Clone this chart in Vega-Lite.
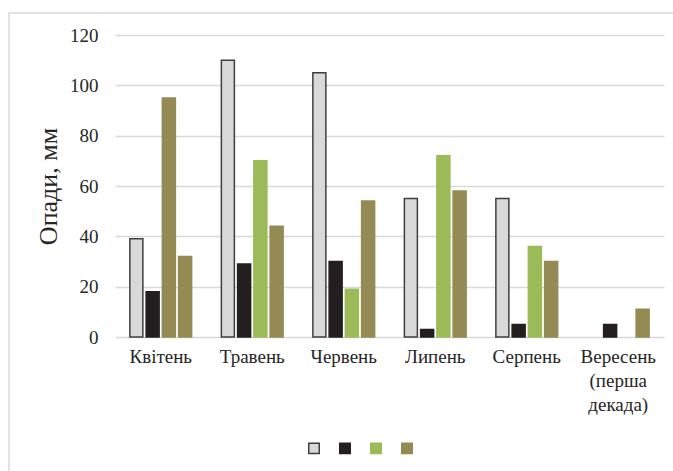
{
  "$schema": "https://vega.github.io/schema/vega-lite/v6.json",
  "width": 666,
  "height": 460,
  "autosize": {"type": "none"},
  "padding": {"left": 9, "top": 13, "right": -2, "bottom": -2},
  "background": "white",
  "data": {
    "values": [
      {"month": "Квітень", "series": "A", "mm": 39},
      {"month": "Квітень", "series": "B", "mm": 18},
      {"month": "Квітень", "series": "C", "mm": 95},
      {"month": "Квітень", "series": "D", "mm": 32},
      {"month": "Травень", "series": "A", "mm": 110},
      {"month": "Травень", "series": "B", "mm": 29},
      {"month": "Травень", "series": "C", "mm": 70},
      {"month": "Травень", "series": "D", "mm": 44},
      {"month": "Червень", "series": "A", "mm": 105},
      {"month": "Червень", "series": "B", "mm": 30},
      {"month": "Червень", "series": "C", "mm": 19},
      {"month": "Червень", "series": "D", "mm": 54},
      {"month": "Липень", "series": "A", "mm": 55},
      {"month": "Липень", "series": "B", "mm": 3},
      {"month": "Липень", "series": "C", "mm": 72},
      {"month": "Липень", "series": "D", "mm": 58},
      {"month": "Серпень", "series": "A", "mm": 55},
      {"month": "Серпень", "series": "B", "mm": 5},
      {"month": "Серпень", "series": "C", "mm": 36},
      {"month": "Серпень", "series": "D", "mm": 30},
      {"month": "Вересень (перша декада)", "series": "B", "mm": 5},
      {"month": "Вересень (перша декада)", "series": "D", "mm": 11}
    ]
  },
  "mark": {"type": "bar", "strokeWidth": 1.5},
  "encoding": {
    "x": {
      "field": "month",
      "type": "nominal",
      "sort": ["Квітень", "Травень", "Червень", "Липень", "Серпень", "Вересень (перша декада)"],
      "scale": {"range": [106, 655], "paddingInner": 0.325, "paddingOuter": 0.1625},
      "axis": {
        "title": null,
        "offset": -136,
        "domain": false,
        "ticks": false,
        "grid": false,
        "labelAngle": 0,
        "labelPadding": 10,
        "labelFontSize": 19,
        "labelLineHeight": 24,
        "labelExpr": "datum.value == 'Вересень (перша декада)' ? ['Вересень', '(перша', 'декада)'] : datum.value"
      }
    },
    "xOffset": {
      "field": "series",
      "type": "nominal",
      "sort": ["A", "B", "C", "D"],
      "scale": {"domain": ["A", "B", "C", "D"], "paddingInner": 0.2, "paddingOuter": 0}
    },
    "y": {
      "field": "mm",
      "type": "quantitative",
      "scale": {"domain": [0, 120], "range": [324, 22]},
      "axis": {
        "title": "Опади, мм",
        "offset": -106,
        "values": [0, 20, 40, 60, 80, 100, 120],
        "domain": false,
        "ticks": false,
        "labelPadding": 17,
        "labelFontSize": 19,
        "titleFontSize": 26,
        "titleFontWeight": "normal",
        "titlePadding": 8,
        "gridColor": "#d9d9d9",
        "gridWidth": 1.5
      }
    },
    "color": {
      "condition": {"test": "datum.month == 'Квітень' && datum.series == 'C'", "value": "#948a54"},
      "field": "series",
      "type": "nominal",
      "scale": {"domain": ["A", "B", "C", "D"], "range": ["#d9d9d9", "#231f20", "#9bbb59", "#948a54"]},
      "legend": {
        "title": null,
        "orient": "none",
        "legendX": 299,
        "legendY": 429,
        "direction": "horizontal",
        "labelExpr": "''",
        "labelOffset": 0,
        "columnPadding": 13,
        "symbolType": "square",
        "symbolSize": 110,
        "symbolStrokeWidth": 1.5,
        "symbolOpacity": 1
      }
    },
    "stroke": {
      "condition": {"test": "datum.month == 'Квітень' && datum.series == 'C'", "value": "#948a54"},
      "field": "series",
      "type": "nominal",
      "scale": {"domain": ["A", "B", "C", "D"], "range": ["#3f3f3f", "#231f20", "#9bbb59", "#948a54"]},
      "legend": {
        "title": null,
        "orient": "none",
        "legendX": 299,
        "legendY": 429,
        "direction": "horizontal",
        "labelExpr": "''",
        "labelOffset": 0,
        "columnPadding": 13,
        "symbolType": "square",
        "symbolSize": 110,
        "symbolStrokeWidth": 1.5,
        "symbolOpacity": 1
      }
    }
  },
  "config": {
    "font": "Liberation Serif",
    "view": {"stroke": "#d9d9d9", "strokeWidth": 1.5},
    "axis": {"labelColor": "#262626", "titleColor": "#262626", "labelFont": "Liberation Serif", "titleFont": "Liberation Serif"},
    "legend": {"padding": 0}
  }
}
